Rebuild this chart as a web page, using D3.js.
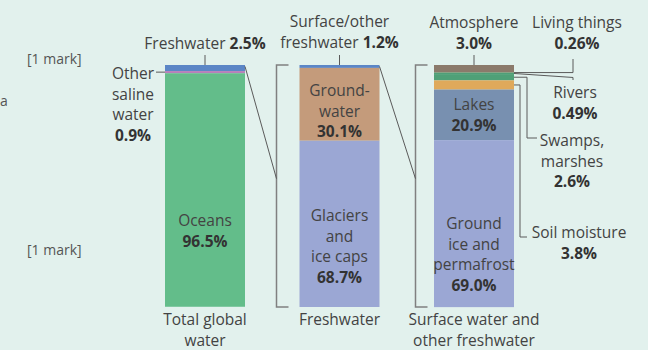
<!DOCTYPE html>
<html>
<head>
<meta charset="utf-8">
<script src="https://cdn.jsdelivr.net/npm/d3@7"></script>
<style>
  html, body { margin: 0; padding: 0; background: #e2f1ed; }
  svg { display: block; font-family: "Open Sans", "Noto Sans", sans-serif; }
</style>
</head>
<body>
<div id="chart"></div>
<script>
// bars, left to right
const barNames = ["Total global water", "Freshwater", "Surface water and other freshwater"];

// segments of each bar, top to bottom (percent)
const totalNames = ["Freshwater", "Other saline water", "Oceans"];
const totalValues = [2.5, 0.9, 96.5];

const freshNames = ["Surface/other freshwater", "Groundwater", "Glaciers and ice caps"];
const freshValues = [1.2, 30.1, 68.7];

const surfaceNames = ["Atmosphere", "Living things", "Rivers", "Swamps, marshes", "Soil moisture", "Lakes", "Ground ice and permafrost"];
const surfaceValues = [3.0, 0.26, 0.49, 2.6, 3.8, 20.9, 69.0];

const colors = {
  "Freshwater": "#5b86c6",
  "Other saline water": "#b77fba",
  "Oceans": "#63bd8a",
  "Surface/other freshwater": "#5b86c6",
  "Groundwater": "#c49b7b",
  "Glaciers and ice caps": "#9ba7d4",
  "Atmosphere": "#8b7a6b",
  "Living things": "#6f8a62",
  "Rivers": "#4f9f78",
  "Swamps, marshes": "#4fa077",
  "Soil moisture": "#dfa95b",
  "Lakes": "#7890b0",
  "Ground ice and permafrost": "#9ba7d4"
};

function renderWaterChart(containerId) {
  const width = 648;
  const height = 350;
  const barW = 80;

  const svg = d3.select(`#${containerId}`)
    .append("svg")
    .attr("width", width)
    .attr("height", height);

  svg.append("rect").attr("width", width).attr("height", height).attr("fill", "#e2f1ed");

  const x = d3.scalePoint().domain(barNames).range([205, 474]);
  const y = d3.scaleLinear().domain([0, 100]).range([65, 307]);

  function stack(names, values) {
    let acc = 0;
    return names.map((n, i) => {
      const s = { name: n, value: values[i], y0: acc, y1: acc + values[i] };
      acc += values[i];
      return s;
    });
  }

  const bars = [
    { bar: barNames[0], segs: stack(totalNames, totalValues) },
    { bar: barNames[1], segs: stack(freshNames, freshValues) },
    { bar: barNames[2], segs: stack(surfaceNames, surfaceValues) }
  ];

  const seg = {};
  bars.forEach(b => b.segs.forEach(s => { seg[b.bar + "|" + s.name] = s; }));

  bars.forEach(b => {
    svg.append("g").selectAll("rect")
      .data(b.segs)
      .join("rect")
      .attr("x", x(b.bar) - barW / 2)
      .attr("width", barW)
      .attr("y", d => y(d.y0))
      .attr("height", d => y(d.y1) - y(d.y0))
      .attr("fill", d => colors[d.name]);
  });

  const lines = svg.append("g").attr("fill", "none");
  const lineCol = "#5a5a5a";
  const brCol = "#808080";

  // brackets in front of bars 2 and 3
  [[barNames[1], 23], [barNames[2], 18.5]].forEach(([b, off]) => {
    const bx = x(b) - barW / 2 - off;
    lines.append("path")
      .attr("d", `M${bx + 12},${y(0)}H${bx}V${y(100)}H${bx + 12}`)
      .attr("stroke", brCol).attr("stroke-width", 1.5);
  });

  // zoom lines from one bar's top to the next bracket
  [[barNames[0], barNames[1], 23], [barNames[1], barNames[2], 18.5]].forEach(([a, b, off]) => {
    const bx = x(b) - barW / 2 - off;
    lines.append("line")
      .attr("x1", x(a) + barW / 2).attr("y1", y(0.6))
      .attr("x2", bx).attr("y2", y(47))
      .attr("stroke", lineCol).attr("stroke-width", 1);
  });

  // short ticks above bars
  barNames.forEach(b => {
    lines.append("line")
      .attr("x1", x(b)).attr("x2", x(b))
      .attr("y1", y(0) - 10).attr("y2", y(0))
      .attr("stroke", lineCol).attr("stroke-width", 1);
  });

  const mid = (b, n) => { const s = seg[b + "|" + n]; return y((s.y0 + s.y1) / 2); };
  const right3 = x(barNames[2]) + barW / 2;
  const left1 = x(barNames[0]) - barW / 2;

  // Other saline water leader
  lines.append("line")
    .attr("x1", left1 - 9).attr("x2", left1)
    .attr("y1", mid(barNames[0], "Other saline water")).attr("y2", mid(barNames[0], "Other saline water"))
    .attr("stroke", lineCol).attr("stroke-width", 1);

  // leaders on the right of bar 3
  const lv = mid(barNames[2], "Living things");
  lines.append("path").attr("d", `M${right3},${lv}H${right3 + 59}V59`)
    .attr("stroke", lineCol).attr("stroke-width", 1);
  const rv = mid(barNames[2], "Rivers");
  lines.append("path").attr("d", `M${right3},${rv}L${right3 + 59},${rv + 4}V80`)
    .attr("stroke", lineCol).attr("stroke-width", 1);
  const sv = mid(barNames[2], "Swamps, marshes");
  lines.append("path").attr("d", `M${right3},${sv}H${right3 + 13}V138H${right3 + 23}`)
    .attr("stroke", lineCol).attr("stroke-width", 1);
  const mv = mid(barNames[2], "Soil moisture");
  lines.append("path").attr("d", `M${right3},${mv}H${right3 + 6}V237H${right3 + 13}`)
    .attr("stroke", lineCol).attr("stroke-width", 1);

  // text labels; bold parts marked with *
  const fs = 15.5, lh = 20.5;
  const txt = "#434343";
  function label(cx, by, rows, anchor) {
    const t = svg.append("text")
      .attr("x", cx).attr("y", by)
      .attr("text-anchor", anchor || "middle")
      .attr("font-size", fs).attr("fill", txt);
    rows.forEach((r, i) => {
      const ts = t.append("tspan").attr("x", cx).attr("dy", i === 0 ? 0 : lh);
      r.forEach(part => {
        const bold = part.startsWith("*");
        ts.append("tspan")
          .attr("font-weight", bold ? "bold" : null)
          .attr("fill", bold ? "#333" : null)
          .text(bold ? part.slice(1) : part);
      });
    });
  }

  const c1 = x(barNames[0]), c2 = x(barNames[1]), c3 = x(barNames[2]);
  const pct = v => "*" + v + "%";

  label(c1, 49, [["Freshwater ", pct(totalValues[0].toFixed(1))]]);
  label(133, 79, [["Other"], ["saline"], ["water"], [pct(totalValues[1].toFixed(1))]]);
  label(c1, 226, [["Oceans"], [pct(totalValues[2].toFixed(1))]]);

  label(c2, 27, [["Surface/other"], ["freshwater ", pct(freshValues[0].toFixed(1))]]);
  label(c2, 96, [["Ground-"], ["water"], [pct(freshValues[1].toFixed(1))]]);
  label(c2, 221, [["Glaciers"], ["and"], ["ice caps"], [pct(freshValues[2].toFixed(1))]]);

  label(c3, 28, [["Atmosphere"], [pct(surfaceValues[0].toFixed(1))]]);
  label(577, 28, [["Living things"], [pct(surfaceValues[1].toFixed(2))]]);
  label(575, 98, [["Rivers"], [pct(surfaceValues[2].toFixed(2))]]);
  label(572, 146, [["Swamps,"], ["marshes"], [pct(surfaceValues[3].toFixed(1))]]);
  label(579, 238, [["Soil moisture"], [pct(surfaceValues[4].toFixed(1))]]);
  label(c3, 110, [["Lakes"], [pct(surfaceValues[5].toFixed(1))]]);
  label(c3, 229, [["Ground"], ["ice and"], ["permafrost"], [pct(surfaceValues[6].toFixed(1))]]);

  // category labels under bars
  label(c1, 325, [["Total global"], ["water"]]);
  label(c2, 325, [["Freshwater"]]);
  label(c3, 325, [["Surface water and"], ["other freshwater"]]);

  // margin notes
  svg.append("text").attr("x", 27).attr("y", 64).attr("font-size", 14).attr("fill", "#555").text("[1 mark]");
  svg.append("text").attr("x", 27).attr("y", 255).attr("font-size", 14).attr("fill", "#555").text("[1 mark]");
  svg.append("text").attr("x", 0).attr("y", 106).attr("font-size", 14).attr("fill", "#555").text("a");
}

renderWaterChart("chart");
</script>
</body>
</html>
